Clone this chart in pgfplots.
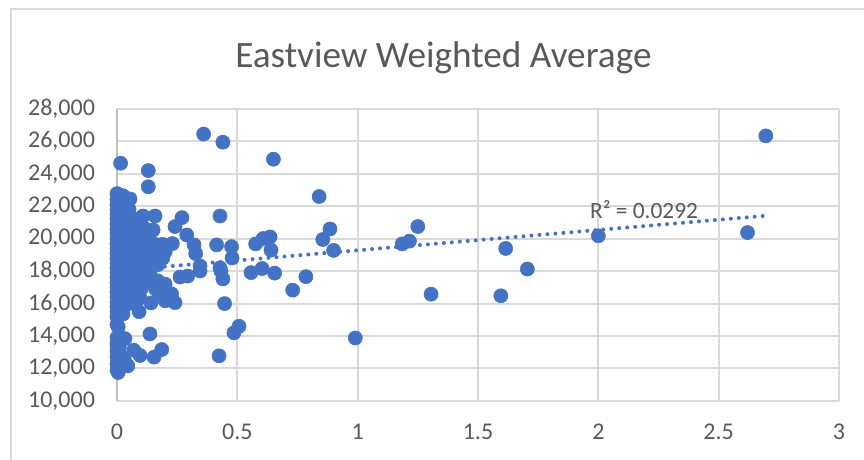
\documentclass[border=0pt]{standalone}
\usepackage{fontspec}
\setmainfont{Carlito}
\usepackage{pgfplots}
\pgfplotsset{compat=1.18}
\definecolor{dotblue}{HTML}{4472C4}
\definecolor{txt}{HTML}{595959}
\definecolor{gridc}{HTML}{D9D9D9}
\definecolor{axc}{HTML}{BFBFBF}
\begin{document}
\begin{tikzpicture}
\useasboundingbox (0pt,0pt) rectangle (648pt,345pt);
% chart frame, cut off at the bottom and right of the screenshot
\draw[gridc,line width=1.5pt] (8.2pt,0pt) -- (8.2pt,338.2pt) -- (648pt,338.2pt);
\begin{axis}[
    at={(87.75pt,44.3pt)},anchor=south west,
    scale only axis,
    width=541.5pt,height=219pt,
    xmin=0,xmax=3,ymin=10000,ymax=28000,
    xtick={0,0.5,1,1.5,2,2.5,3},
    xticklabels={0,0.5,1,1.5,2,2.5,3},
    ytick={10000,12000,14000,16000,18000,20000,22000,24000,26000,28000},
    yticklabels={{10,000},{12,000},{14,000},{16,000},{18,000},{20,000},{22,000},{24,000},{26,000},{28,000}},
    scaled ticks=false,
    grid=major,
    grid style={gridc,line width=1.5pt},
    axis lines=left,
    axis line style={-},
    x axis line style={gridc,line width=1.5pt},
    y axis line style={axc,line width=1.5pt},
    major tick length=0pt,
    tick label style={font=\fontsize{18pt}{20pt}\selectfont,text=txt},
    xticklabel style={yshift=-13.5pt},
    yticklabel style={xshift=-13pt},
    clip=false,
]
\addplot[only marks,mark=*,mark size=5.3pt,mark options={fill=dotblue,draw=dotblue,line width=0.4pt}] coordinates {
(0.36,26450) (0.44,25950) (0.65,24900) (0.015,24650) (0.13,24200) (0.13,23200) (2.696,26340)
(0.84,22600) (0.428,21400) (0.27,21300) (0.241,20750) (0.29,20230) (0.158,21400) (0.108,21400)
(0.15,20540) (0.23,19700) (0.17,19620) (0.32,19620) (0.414,19620) (0.476,19510) (0.576,19680)
(0.607,20010) (0.636,20110) (0.64,19300) (0.327,19080) (0.478,18810) (0.345,18320) (0.345,18010)
(0.428,18200) (0.44,17520) (0.432,18000) (0.262,17640) (0.294,17700) (0.557,17910) (0.603,18160)
(0.655,17880) (0.73,16830) (0.785,17660) (0.855,19950) (0.885,20600) (0.9,19280) (1.185,19680)
(1.215,19850) (1.25,20750) (1.305,16580) (1.595,16480) (1.615,19400) (1.705,18130) (2.0,20180)
(2.62,20380) (0.99,13880) (0.447,16000) (0.486,14200) (0.507,14600) (0.424,12780) (0.137,14130)
(0.092,15500) (0.141,16040) (0.241,16060) (0.186,13170) (0.154,12700) (0.096,12800) (0.07,13130)
(0.033,13840) (0.005,11750) (0.17,17400) (0.2,17200) (0.227,16600) (0.179,16660) (0.2,16170)
(0.16,16900) (0.19,17000) (0.19,18800) (0.2,19200) (0.17,18400) (0.14,18900) (0.16,19300) (0.19,19650)
(0.13,20000) (0.11,20700) (0.12,20300) (0.095,21000) (0.08,21200) (0.15,19700)
(0.083,16400) (0.095,16350) (0.025,15360) (0.005,14560) (0.02,13800) (0,13580) (0,13080) (0.045,12160)
(0.025,12280) (0.01,12100) (0.005,12450) (0.015,12800) (0.01,13300) (0.03,12600)
(0,11900) (0,12300) (0,12700) (0,13400) (0,13900) (0,14700) (0,15200) (0,15500) (0,15800)
(0,16100) (0,16400) (0,16700) (0,17000) (0,17300) (0,17600) (0,17900) (0,18200) (0,18500)
(0,18800) (0,19100) (0,19400) (0,19700) (0,20000) (0,20300) (0,20600) (0,20900) (0,21200)
(0,21500) (0,21800) (0,22100) (0,22400) (0,22780)
(0.02,15700) (0.02,16100) (0.02,16500) (0.02,16900) (0.02,17300) (0.02,17700) (0.02,18100)
(0.02,18500) (0.02,18900) (0.02,19300) (0.02,19700) (0.02,20100) (0.02,20500) (0.02,20900)
(0.02,21300) (0.02,21700) (0.02,22100) (0.025,22650)
(0.05,16000) (0.05,16500) (0.05,17000) (0.05,17400) (0.05,17800) (0.05,18200) (0.05,18600)
(0.05,19000) (0.05,19400) (0.05,19800) (0.05,20200) (0.05,20600) (0.05,21000) (0.05,21400)
(0.05,21800) (0.054,22450) (0.04,22100)
(0.08,16100) (0.08,16700) (0.08,17100) (0.08,17500) (0.08,17900) (0.08,18300) (0.08,18700)
(0.08,19100) (0.08,19500) (0.08,19900) (0.08,20300) (0.08,20700)
(0.1,16900) (0.11,17300) (0.11,17700) (0.11,18100) (0.11,18500) (0.11,18900) (0.11,19300)
(0.13,17300) (0.14,17700) (0.14,18200) (0.12,19700) (0.1,20100)
};
\addplot[dotblue,line width=3pt,line cap=round,dash pattern=on 0pt off 6pt] coordinates {(0,18030) (2.696,21415)};
\node[text=txt,font=\fontsize{17.5pt}{20pt}\selectfont,inner sep=0pt] at (axis cs:2.19,21800) {R² = 0.0292};
\node[text=txt,font=\fontsize{27.9pt}{32pt}\selectfont,inner sep=0pt] at (axis cs:1.356,31150) {Eastview Weighted Average};
\end{axis}
\end{tikzpicture}
\end{document}
